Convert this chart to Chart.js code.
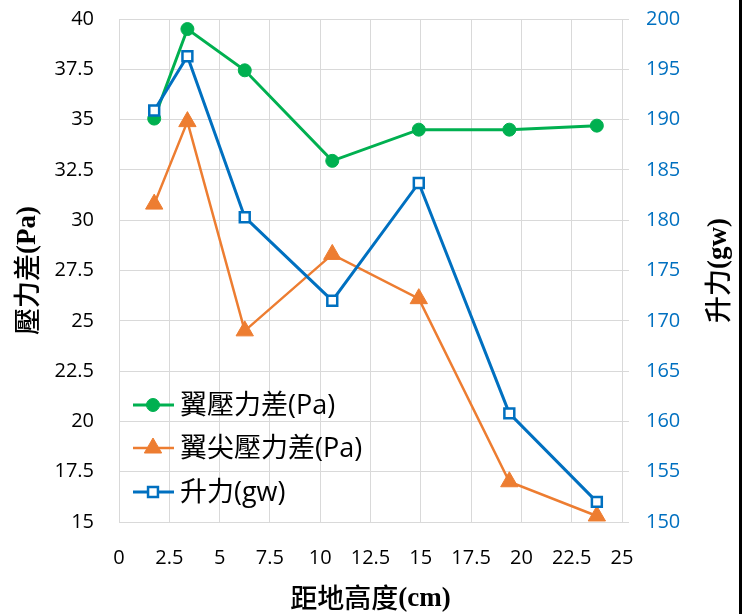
<!DOCTYPE html>
<html lang="zh-Hant">
<head>
    <meta charset="UTF-8">
    <title>距地高度 - 壓力差與升力</title>
    <script src="https://cdn.jsdelivr.net/npm/chart.js"></script>
    <style>
        html, body {
            margin: 0;
            padding: 0;
            background: #fff;
        }

        .wrap {
            position: relative;
            width: 747px;
            height: 614px;
        }

        /* black frame edge on the right side */
        .edge {
            position: absolute;
            left: 739px;
            top: 0;
            width: 3px;
            height: 614px;
            background: #000;
        }
    </style>
</head>
<body>
<div class="wrap">
    <canvas id="chart" width="747" height="614"></canvas>
    <div class="edge"></div>
</div>
<script>
    // 距地高度 (cm)
    const heights = [1.75, 3.4, 6.25, 10.6, 14.9, 19.4, 23.75];
    // 翼壓力差 (Pa)
    const wingDiff = [35.05, 39.5, 37.45, 32.95, 34.5, 34.5, 34.7];
    // 翼尖壓力差 (Pa)
    const tipDiff = [30.8, 34.9, 24.5, 28.3, 26.1, 17.0, 15.3];
    // 升力 (gw)
    const lift = [190.9, 196.3, 180.3, 172.0, 183.7, 160.8, 152.0];

    const seriesNames = ['翼壓力差(Pa)', '翼尖壓力差(Pa)', '升力(gw)'];

    const xTicks = [0, 25, 2.5];        // min, max, step
    const leftTicks = [15, 40, 2.5];
    const rightTicks = [150, 200, 5];

    const GREEN = '#00b050';
    const ORANGE = '#ed7d31';
    const BLUE = '#0070c0';
    const GRID = '#d9d9d9';

    const TICK_FONT = {family: "'Open Sans', 'Noto Sans CJK TC'", size: 20};

    function pts(ys) {
        return heights.map((h, i) => ({x: h, y: ys[i]}));
    }

    // draws text made of parts with different fonts, centered at (cx, cy)
    function drawMixed(ctx, parts, cx, cy, rot) {
        ctx.save();
        ctx.translate(cx, cy);
        ctx.rotate(rot);
        ctx.textBaseline = 'middle';
        ctx.textAlign = 'left';
        ctx.fillStyle = '#000';
        let total = 0;
        parts.forEach(p => {
            ctx.font = p.font;
            total += ctx.measureText(p.text).width;
        });
        let x = -total / 2;
        parts.forEach(p => {
            ctx.font = p.font;
            ctx.fillText(p.text, x, p.dy || 0);
            x += ctx.measureText(p.text).width;
        });
        ctx.restore();
    }

    const CJK = "500 27px 'Noto Sans CJK TC'";
    const SERIF = "bold 27px 'Liberation Serif'";

    const titlesPlugin = {
        id: 'titles',
        afterDraw(chart) {
            const ctx = chart.ctx;
            const area = chart.chartArea;
            const midY = (area.top + area.bottom) / 2;
            drawMixed(ctx, [{text: '距地高度', font: CJK}, {text: '(cm)', font: SERIF, dy: 1}],
                (area.left + area.right) / 2, 598, 0);
            drawMixed(ctx, [{text: '壓力差', font: CJK}, {text: '(Pa)', font: SERIF, dy: 1}],
                27, midY, -Math.PI / 2);
            drawMixed(ctx, [{text: '升力', font: CJK}, {text: '(gw)', font: SERIF, dy: 1}],
                718, midY, -Math.PI / 2);
        }
    };

    // legend inside the plot area, lower left
    const legendPlugin = {
        id: 'innerLegend',
        afterDraw(chart) {
            const ctx = chart.ctx;
            const rows = [405, 448, 492];
            chart.data.datasets.forEach((ds, i) => {
                const y = rows[i];
                ctx.save();
                ctx.strokeStyle = ds.borderColor;
                ctx.lineWidth = ds.borderWidth;
                ctx.beginPath();
                ctx.moveTo(133, y);
                ctx.lineTo(174, y);
                ctx.stroke();
                ctx.fillStyle = ds.pointBackgroundColor;
                ctx.strokeStyle = ds.pointBorderColor;
                ctx.lineWidth = ds.pointBorderWidth;
                Chart.helpers.drawPoint(ctx, {
                    pointStyle: ds.pointStyle,
                    radius: ds.pointRadius,
                    borderWidth: ds.pointBorderWidth,
                    rotation: 0
                }, 153, y);
                ctx.fillStyle = '#000';
                ctx.font = "27px 'Open Sans', 'Noto Sans CJK TC'";
                ctx.textBaseline = 'middle';
                ctx.textAlign = 'left';
                ctx.fillText(ds.label, 180, y + 1);
                ctx.restore();
            });
        }
    };

    // fixed axis sizes so the plot area lands where the original has it
    function fitY(width) {
        return s => {
            s.width = width;
            s.paddingTop = 0;
            s.paddingBottom = 0;
        };
    }

    new Chart(document.getElementById('chart').getContext('2d'), {
        type: 'line',
        data: {
            datasets: [{
                label: seriesNames[0],
                data: pts(wingDiff),
                yAxisID: 'y',
                borderColor: GREEN,
                borderWidth: 3,
                pointStyle: 'circle',
                pointRadius: 6.5,
                pointBackgroundColor: GREEN,
                pointBorderColor: GREEN,
                pointBorderWidth: 1,
                order: 3
            }, {
                label: seriesNames[1],
                data: pts(tipDiff),
                yAxisID: 'y',
                borderColor: ORANGE,
                borderWidth: 2.5,
                pointStyle: 'triangle',
                pointRadius: 10,
                pointBackgroundColor: ORANGE,
                pointBorderColor: ORANGE,
                pointBorderWidth: 1,
                order: 2
            }, {
                label: seriesNames[2],
                data: pts(lift),
                yAxisID: 'y2',
                borderColor: BLUE,
                borderWidth: 3,
                pointStyle: 'rect',
                pointRadius: 7,
                pointBackgroundColor: '#fff',
                pointBorderColor: BLUE,
                pointBorderWidth: 2.5,
                order: 1
            }]
        },
        options: {
            responsive: false,
            animation: false,
            layout: {padding: {top: 19, left: 0, right: 0, bottom: 0}},
            plugins: {
                legend: {display: false},
                tooltip: {enabled: false}
            },
            scales: {
                x: {
                    type: 'linear',
                    min: xTicks[0],
                    max: xTicks[1],
                    afterFit: s => { s.height = 92; },
                    ticks: {stepSize: xTicks[2], color: '#000', font: TICK_FONT, padding: 24, maxRotation: 0},
                    grid: {color: GRID, drawTicks: false},
                    border: {color: GRID}
                },
                y: {
                    position: 'left',
                    min: leftTicks[0],
                    max: leftTicks[1],
                    afterFit: fitY(119),
                    ticks: {stepSize: leftTicks[2], color: '#000', font: TICK_FONT, padding: 25},
                    grid: {color: GRID, drawTicks: false},
                    border: {color: GRID}
                },
                y2: {
                    position: 'right',
                    min: rightTicks[0],
                    max: rightTicks[1],
                    afterFit: fitY(125),
                    ticks: {stepSize: rightTicks[2], color: BLUE, font: TICK_FONT, padding: 17},
                    grid: {color: GRID, drawOnChartArea: false, drawTicks: true, tickLength: 7},
                    border: {color: GRID}
                }
            }
        },
        plugins: [titlesPlugin, legendPlugin]
    });
</script>
</body>
</html>
